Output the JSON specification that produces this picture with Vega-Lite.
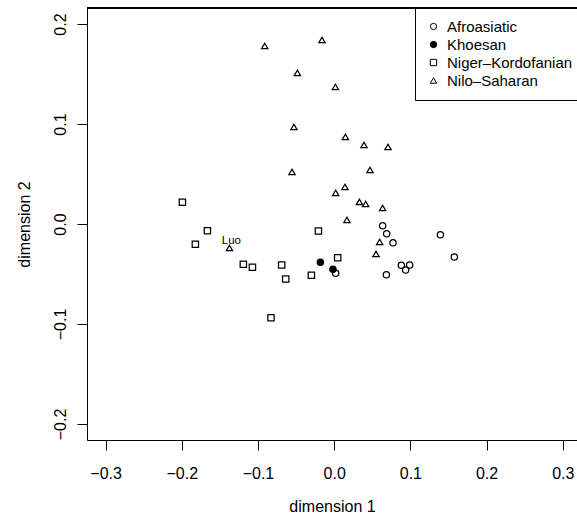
{
  "$schema": "https://vega.github.io/schema/vega-lite/v6.json",
  "width": 490,
  "height": 432,
  "autosize": {"type": "none"},
  "padding": {"left": 87, "top": 8, "right": 0, "bottom": 83},
  "background": "white",
  "config": {
    "view": {"stroke": null},
    "font": "Liberation Sans",
    "axis": {
      "grid": false,
      "domainColor": "black",
      "domainWidth": 1,
      "tickColor": "black",
      "tickWidth": 1,
      "tickSize": 10,
      "labelFont": "Liberation Sans",
      "labelFontSize": 16,
      "labelColor": "black",
      "labelOverlap": false,
      "labelBound": false,
      "labelFlush": false,
      "titleFont": "Liberation Sans",
      "titleFontSize": 16,
      "titleFontWeight": "normal",
      "titleColor": "black"
    },
    "axisX": {"labelPadding": 15, "titlePadding": 17},
    "axisY": {"labelAngle": 270, "labelAlign": "center", "labelBaseline": "alphabetic", "labelPadding": 12, "titlePadding": 20},
    "legend": {
      "orient": "none",
      "legendX": 328,
      "legendY": 0,
      "strokeColor": "black",
      "strokeWidth": 1,
      "fillColor": "white",
      "padding": 11,
      "labelFont": "Liberation Sans",
      "labelFontSize": 15,
      "labelColor": "black",
      "labelOffset": 6,
      "labelLimit": 300,
      "rowPadding": 2,
      "symbolStrokeWidth": 1,
      "labelExpr": "datum.label + '\u00a0\u00a0\u00a0\u00a0'"
    }
  },
  "data": {
    "values": [
      {"family": "Nilo–Saharan", "x": -0.0912, "y": 0.178},
      {"family": "Nilo–Saharan", "x": -0.0160, "y": 0.184},
      {"family": "Nilo–Saharan", "x": -0.0483, "y": 0.151},
      {"family": "Nilo–Saharan", "x": 0.0016, "y": 0.137},
      {"family": "Nilo–Saharan", "x": -0.0528, "y": 0.097},
      {"family": "Nilo–Saharan", "x": 0.0147, "y": 0.087},
      {"family": "Nilo–Saharan", "x": 0.0391, "y": 0.079},
      {"family": "Nilo–Saharan", "x": 0.0706, "y": 0.077},
      {"family": "Nilo–Saharan", "x": -0.0554, "y": 0.052},
      {"family": "Nilo–Saharan", "x": 0.0470, "y": 0.054},
      {"family": "Nilo–Saharan", "x": 0.0142, "y": 0.037},
      {"family": "Nilo–Saharan", "x": 0.0020, "y": 0.031},
      {"family": "Nilo–Saharan", "x": -0.1375, "y": -0.024, "label": "Luo"},
      {"family": "Nilo–Saharan", "x": 0.0331, "y": 0.022},
      {"family": "Nilo–Saharan", "x": 0.0413, "y": 0.020},
      {"family": "Nilo–Saharan", "x": 0.0636, "y": 0.016},
      {"family": "Nilo–Saharan", "x": 0.0168, "y": 0.004},
      {"family": "Nilo–Saharan", "x": 0.0597, "y": -0.018},
      {"family": "Nilo–Saharan", "x": 0.0549, "y": -0.030},
      {"family": "Niger–Kordofanian", "x": -0.1992, "y": 0.0217},
      {"family": "Niger–Kordofanian", "x": -0.1664, "y": -0.0067},
      {"family": "Niger–Kordofanian", "x": -0.1822, "y": -0.0203},
      {"family": "Niger–Kordofanian", "x": -0.1192, "y": -0.0403},
      {"family": "Niger–Kordofanian", "x": -0.1073, "y": -0.0433},
      {"family": "Niger–Kordofanian", "x": -0.0689, "y": -0.041},
      {"family": "Niger–Kordofanian", "x": -0.0636, "y": -0.055},
      {"family": "Niger–Kordofanian", "x": -0.0829, "y": -0.0937},
      {"family": "Niger–Kordofanian", "x": -0.0299, "y": -0.0513},
      {"family": "Niger–Kordofanian", "x": -0.0207, "y": -0.007},
      {"family": "Niger–Kordofanian", "x": 0.0046, "y": -0.0337},
      {"family": "Khoesan", "x": -0.0181, "y": -0.0383},
      {"family": "Khoesan", "x": -0.0016, "y": -0.0453},
      {"family": "Afroasiatic", "x": 0.0020, "y": -0.0493},
      {"family": "Afroasiatic", "x": 0.0636, "y": -0.0017},
      {"family": "Afroasiatic", "x": 0.0689, "y": -0.0097},
      {"family": "Afroasiatic", "x": 0.0772, "y": -0.0187},
      {"family": "Afroasiatic", "x": 0.0685, "y": -0.0507},
      {"family": "Afroasiatic", "x": 0.0882, "y": -0.0413},
      {"family": "Afroasiatic", "x": 0.0991, "y": -0.041},
      {"family": "Afroasiatic", "x": 0.0938, "y": -0.046},
      {"family": "Afroasiatic", "x": 0.1394, "y": -0.0107},
      {"family": "Afroasiatic", "x": 0.1577, "y": -0.033}
    ]
  },
  "layer": [
    {
      "mark": {"type": "rule", "color": "black", "strokeWidth": 1},
      "encoding": {
        "y": {"datum": 0.216, "type": "quantitative", "scale": {"domain": [-0.216, 0.216], "nice": false, "zero": false}, "title": "dimension 2", "axis": {"values": [-0.2, -0.1, 0, 0.1, 0.2], "format": ".1f"}}
      }
    },
    {
      "mark": {"type": "point", "filled": true, "strokeWidth": 1.25, "opacity": 1},
      "encoding": {
        "x": {"field": "x", "type": "quantitative", "scale": {"domain": [-0.3244, 0.3187], "nice": false, "zero": false}, "title": "dimension 1", "axis": {"values": [-0.3, -0.2, -0.1, 0, 0.1, 0.2, 0.3], "format": ".1f"}},
        "y": {"field": "y", "type": "quantitative", "scale": {"domain": [-0.216, 0.216], "nice": false, "zero": false}, "title": "dimension 2", "axis": {"values": [-0.2, -0.1, 0, 0.1, 0.2], "format": ".1f"}},
        "shape": {"field": "family", "type": "nominal", "title": null, "scale": {"domain": ["Afroasiatic", "Khoesan", "Niger–Kordofanian", "Nilo–Saharan"], "range": ["circle", "circle", "square", "triangle-up"]}},
        "fill": {"field": "family", "type": "nominal", "title": null, "scale": {"domain": ["Afroasiatic", "Khoesan", "Niger–Kordofanian", "Nilo–Saharan"], "range": ["transparent", "black", "transparent", "transparent"]}},
        "stroke": {"field": "family", "type": "nominal", "title": null, "scale": {"domain": ["Afroasiatic", "Khoesan", "Niger–Kordofanian", "Nilo–Saharan"], "range": ["black", "black", "black", "black"]}},
        "size": {"field": "family", "type": "nominal", "title": null, "scale": {"domain": ["Afroasiatic", "Khoesan", "Niger–Kordofanian", "Nilo–Saharan"], "range": [40, 40, 42, 90]}}
      }
    },
    {
      "transform": [{"filter": "datum.label"}],
      "mark": {"type": "text", "fontSize": 11.5, "font": "Liberation Sans", "fill": "black", "baseline": "alphabetic", "align": "center", "dx": 2, "dy": -4.5},
      "encoding": {
        "x": {"field": "x", "type": "quantitative"},
        "y": {"field": "y", "type": "quantitative"},
        "text": {"field": "label"}
      }
    }
  ]
}
